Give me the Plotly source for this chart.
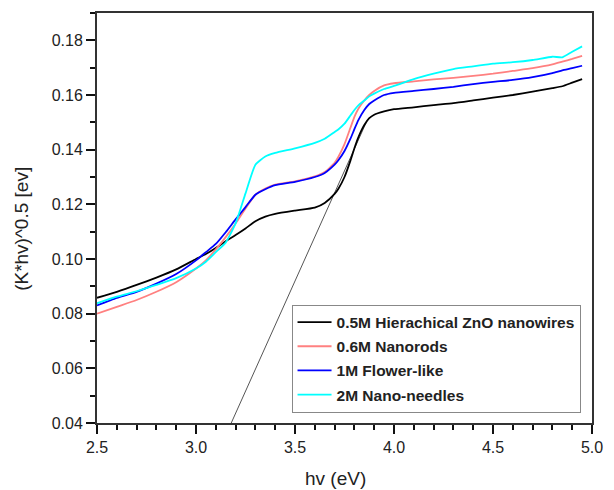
import plotly.graph_objects as go

# Photon energy grid (eV)
hv = [2.5, 2.6, 2.7, 2.8, 2.9, 3.0, 3.05, 3.1, 3.15, 3.2, 3.25, 3.3, 3.35, 3.4,
      3.5, 3.6, 3.65, 3.7, 3.72, 3.75, 3.78, 3.8, 3.82, 3.85, 3.875, 3.9, 3.95,
      4.0, 4.1, 4.2, 4.3, 4.4, 4.5, 4.6, 4.7, 4.8, 4.85, 4.9, 4.95]

# (K*hv)^0.5 for each sample
nanowires_05m = [0.0858, 0.0880, 0.0905, 0.0932, 0.0962, 0.1000, 0.1018, 0.1040,
                 0.1065, 0.1088, 0.1112, 0.1138, 0.1155, 0.1165, 0.1177, 0.1188,
                 0.1205, 0.1238, 0.1258, 0.1300, 0.1360, 0.1405, 0.1445, 0.1490,
                 0.1515, 0.1528, 0.1540, 0.1548, 0.1555, 0.1563, 0.1570, 0.1580,
                 0.1590, 0.1600, 0.1612, 0.1625, 0.1632, 0.1645, 0.1658]
nanorods_06m = [0.0800, 0.0825, 0.0850, 0.0880, 0.0915, 0.0965, 0.0995, 0.1035,
                0.1080, 0.1130, 0.1185, 0.1235, 0.1258, 0.1272, 0.1284, 0.1302,
                0.1318, 0.1352, 0.1375, 0.1420, 0.1480, 0.1520, 0.1550, 0.1580,
                0.1600, 0.1615, 0.1635, 0.1643, 0.1650, 0.1657, 0.1663, 0.1670,
                0.1678, 0.1688, 0.1698, 0.1712, 0.1722, 0.1732, 0.1743]
flower_1m = [0.0830, 0.0858, 0.0880, 0.0910, 0.0945, 0.0995, 0.1025, 0.1055,
             0.1098, 0.1145, 0.1190, 0.1235, 0.1255, 0.1270, 0.1282, 0.1300,
             0.1315, 0.1345, 0.1362, 0.1395, 0.1440, 0.1475, 0.1508, 0.1545,
             0.1567, 0.1580, 0.1600, 0.1608, 0.1615, 0.1622, 0.1630, 0.1640,
             0.1648, 0.1655, 0.1665, 0.1680, 0.1690, 0.1698, 0.1707]
needles_2m = [0.0838, 0.0862, 0.0882, 0.0905, 0.0930, 0.0965, 0.0990, 0.1025,
              0.1060, 0.1130, 0.1240, 0.1345, 0.1375, 0.1388, 0.1405, 0.1425,
              0.1440, 0.1465, 0.1475, 0.1495, 0.1525, 0.1545, 0.1562, 0.1580,
              0.1595, 0.1605, 0.1622, 0.1633, 0.1658, 0.1678, 0.1695, 0.1705,
              0.1715, 0.1720, 0.1728, 0.1740, 0.1738, 0.1758, 0.1778]

names = ["0.5M Hierachical ZnO nanowires", "0.6M Nanorods",
         "1M Flower-like", "2M Nano-needles"]
colors = ["#000000", "#ff8080", "#0000ff", "#00ffff"]

# Linear extrapolation of the absorption edge (band-gap estimate)
tangent_x = [3.178, 3.86]
tangent_y = [0.04, 0.150]

FONT = "Liberation Sans, Arial, sans-serif"
TEXT = "#222222"
AX = "#111111"

fig = go.Figure()
fig.add_trace(go.Scatter(x=tangent_x, y=tangent_y, mode="lines",
                         line=dict(color="#555555", width=1), showlegend=False))
for name, col, ys in zip(names, colors,
                         [nanowires_05m, nanorods_06m, flower_1m, needles_2m]):
    fig.add_trace(go.Scatter(x=hv, y=ys, mode="lines", name=name,
                             legendgroup=name,
                             line=dict(color=col, width=1.8, shape="spline",
                                       smoothing=0.5)))

axis_common = dict(showline=True, linecolor="#333333", linewidth=2, mirror=True,
                   ticks="outside", ticklen=9, tickwidth=2, tickcolor=AX,
                   showgrid=False, zeroline=False,
                   tickfont=dict(family=FONT, size=16, color=TEXT))

fig.update_xaxes(range=[2.5, 5.0], dtick=0.5, tick0=2.5, tickformat=".1f",
                 minor=dict(dtick=0.1, ticks="outside", ticklen=5, tickwidth=1.5,
                            tickcolor=AX),
                 **axis_common)
fig.update_yaxes(range=[0.04, 0.19], dtick=0.02, tick0=0.04, tickformat=".2f",
                 minor=dict(dtick=0.01, ticks="outside", ticklen=5, tickwidth=1.5,
                            tickcolor=AX),
                 **axis_common)

# Axis titles
fig.add_annotation(text="hv (eV)", xref="paper", yref="paper",
                   x=0.481, y=-0.136, showarrow=False,
                   xanchor="center", yanchor="middle",
                   font=dict(family=FONT, size=19, color=TEXT))
fig.add_annotation(text="(K*hv)^0.5 [ev]", xref="paper", yref="paper",
                   x=-0.154, y=0.473, showarrow=False, textangle=-90,
                   xanchor="center", yanchor="middle",
                   font=dict(family=FONT, size=19, color=TEXT))

fig.update_layout(
    width=614, height=490,
    margin=dict(l=97, r=12, t=11, b=67),
    paper_bgcolor="white", plot_bgcolor="white",
    legend=dict(x=0.393, y=0.289, xanchor="left", yanchor="top",
                bgcolor="white", bordercolor="#888888", borderwidth=1,
                tracegroupgap=1, itemwidth=34,
                font=dict(family=FONT, size=15.5, color=TEXT, weight="bold")),
)

fig.write_html("out.html")
